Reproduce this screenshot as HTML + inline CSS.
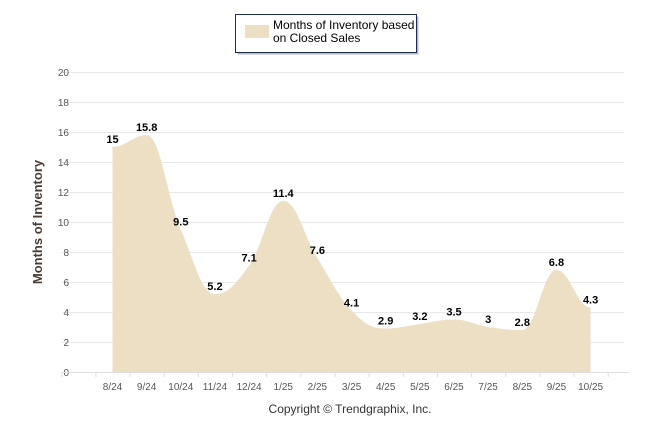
<!DOCTYPE html>
<html><head><meta charset="utf-8"><style>
html,body{margin:0;padding:0;background:#fff;width:646px;height:434px;overflow:hidden}
svg{font-family:"Liberation Sans",Arial,sans-serif}
</style></head><body>
<svg id="chart" width="646" height="434">
<g>
<rect x="235.5" y="14.5" width="181" height="38" fill="#2b3a5a" opacity="0.35" transform="translate(2,2)"/>
<rect x="235.5" y="14.5" width="181" height="38" fill="#fff" stroke="#1c2b4f" stroke-width="1"/>
<rect x="245" y="25" width="24" height="13" fill="#ecdfc4"/>
<text x="273" y="29" font-size="12" fill="#000">Months of Inventory based</text>
<text x="273" y="42" font-size="12" fill="#000">on Closed Sales</text>
</g>
<g id="grid"></g>
<g id="area"></g>
<g id="axes"></g>
<g id="labels"></g>
<text x="0" y="0" transform="translate(42,222) rotate(-90)" text-anchor="middle" font-size="13" font-weight="bold" fill="#4a3c30">Months of Inventory</text>
<text x="350" y="413" text-anchor="middle" font-size="12" fill="#333">Copyright © Trendgraphix, Inc.</text>
</svg>
<script>
const categories=["8/24","9/24","10/24","11/24","12/24","1/25","2/25","3/25","4/25","5/25","6/25","7/25","8/25","9/25","10/25"];
const values=[15,15.8,9.5,5.2,7.1,11.4,7.6,4.1,2.9,3.2,3.5,3,2.8,6.8,4.3];
const yTicks=[0,2,4,6,8,10,12,14,16,18,20];
const NS="http://www.w3.org/2000/svg";
const X0=112.5,DX=34.15,Y0=372,YS=15;
function xs(i){return X0+i*DX;}
function ys(v){return Y0-v*YS;}
function mk(t,a,p){const e=document.createElementNS(NS,t);for(const k in a)e.setAttribute(k,a[k]);p.appendChild(e);return e;}
const grid=document.getElementById('grid'),axes=document.getElementById('axes'),labels=document.getElementById('labels'),area=document.getElementById('area');
yTicks.forEach(t=>{
 const l=mk('line',{x1:62,x2:624,y1:ys(t)+0.5,y2:ys(t)+0.5,stroke:'#e8e8e8'},grid);
 
 
 const tx=mk('text',{x:69,y:ys(t)+4,'text-anchor':'end','font-size':'10',fill:'#555'},axes);
 tx.textContent=t;
 
 
});
// spline
let d='M'+xs(0)+','+Y0+' L'+xs(0)+','+ys(values[0]);
const n=values.length;
function slope(i){
 if(i===0||i===n-1)return 0;
 const a=ys(values[i-1]),b=ys(values[i]),c=ys(values[i+1]);
 if((b-a)*(c-b)<=0)return 0;
 return (c-a)/(2*DX);
}
for(let i=0;i<n-1;i++){
 const x1=xs(i),y1=ys(values[i]),x2=xs(i+1),y2=ys(values[i+1]);
 const s1=slope(i),s2=slope(i+1),h=DX/2.5;
 d+=' C'+(x1+h)+','+(y1+s1*h)+' '+(x2-h)+','+(y2-s2*h)+' '+x2+','+y2;
}
d+=' L'+xs(n-1)+','+Y0+' Z';
const p=mk('path',{d:d,fill:'#ecdfc4'},area);


mk('line',{x1:62,x2:629,y1:Y0+0.5,y2:Y0+0.5,stroke:'#ddd'},axes);
for(let i=-1;i<=n;i++){mk('line',{x1:xs(i)-DX/2+0.5,x2:xs(i)-DX/2+0.5,y1:Y0,y2:Y0+5,stroke:'#ddd'},axes);}
categories.forEach((c,i)=>{
 const t=mk('text',{x:xs(i),y:390,'text-anchor':'middle','font-size':'10',fill:'#555'},axes);
 t.textContent=c;
 
 
});
values.forEach((v,i)=>{
 const t=mk('text',{x:xs(i),y:ys(v)-4,'text-anchor':'middle','font-size':'11','font-weight':'bold',fill:'#000'},labels);
 t.textContent=v;
 
 
});
</script>
</body></html>
